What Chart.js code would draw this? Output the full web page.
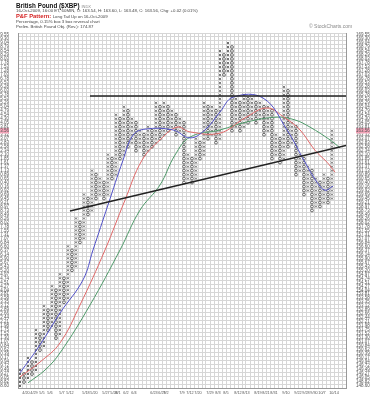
<!DOCTYPE html>
<html>
<head>
<title>British Pound P&amp;F</title>
<script src="https://cdn.jsdelivr.net/npm/chart.js"></script>
<style>
body { margin: 0; background: #fff; font-family: "Liberation Sans", Arial, sans-serif; }
#wrap { position: relative; width: 373px; height: 401px; }
#myChart { position: absolute; left: 0; top: 0; }
.t { position: absolute; white-space: nowrap; color: #444; font-size: 4.3px; line-height: 5px; }
</style>
</head>
<body>
<div id="wrap">
<canvas id="myChart" width="373" height="401"></canvas>
<div class="t" style="left:16px;top:2px;font-size:6.3px;line-height:7px;font-weight:bold;color:#111">British Pound ($XBP) <span style="font-weight:normal;color:#888;font-size:4px">INDX</span></div>
<div class="t" style="left:16px;top:8px">16-Oct-2009, 16:00 ET, 60MIN, O: 163.54, H: 163.60, L: 163.48, C: 163.56, Chg: +0.02 (0.01%)</div>
<div class="t" style="left:16px;top:13px;font-size:5.8px;line-height:6px"><b style="color:#d42020">P&amp;F Pattern:</b> <span style="font-size:4.3px">Long Tail Up on 16-Oct-2009</span></div>
<div class="t" style="left:16px;top:19px">Percentage, 0.15% box 3 box reversal chart</div>
<div class="t" style="left:16px;top:24px">Prelim. British Pound Obj. (Rev.): 174.87</div>
<div class="t" style="left:309px;top:24px;font-size:5px;color:#888">&copy; StockCharts.com</div>
</div>
<script>
// P&F columns (box rows, 0 = bottom of chart)
var colType = ['X','O','X','O','X','O','X','O','X','O','X','O','X','O','X','O','X','O','X','O',
               'X','O','X','O','X','O','X','O','X','O','X','O','X','O','X','O','X','O','X','O',
               'X','O','X','O','X','O','X','O','X','O','X','O','X','O','X','O','X','O','X','O',
               'X','O','X','O','X','O','X','O','X','O','X','O','X','O','X','O','X','O','X'];
var colLow  = [0,1,2,3,4,9,10,14,15,12,13,21,22,29,30,36,37,43,44,47,
               48,47,48,52,53,57,58,60,61,59,60,58,59,60,61,62,63,64,65,63,
               64,51,52,51,52,57,58,62,63,61,62,78,79,64,65,64,65,66,67,66,
               67,63,64,57,58,56,57,60,61,53,54,48,49,44,45,45,46,46,47];
var colHigh = [4,3,7,6,14,13,20,19,25,24,28,27,35,34,42,41,48,47,54,53,
               52,51,58,57,68,67,70,69,67,66,64,63,65,64,71,70,71,70,69,68,
               67,66,58,57,62,61,71,70,70,69,84,83,86,85,72,71,73,72,72,71,
               71,70,70,69,63,62,75,74,66,65,58,57,55,54,52,51,53,52,64];

// box scale
var boxBase = 148.60;
var boxPct = 0.15;
var nRows = 89;
var nCols = 82;
var currentRow = 64;

// moving averages: column position, row value
var maShortX = [0.5,5.5,10.5,16.25,18.75,22.5,26.25,28.75,31.75,38.75,43,46.75,50.5,53.75,61.25,67.25,71.75,74.75,76.75,78.75];
var maShortY = [3.8,10.8,18.8,27.1,34.6,45.9,57.1,63.4,64.9,64.7,62.7,64.7,69.2,72.9,72.7,64.7,56.6,51.6,49.6,50.6];
var maMidX = [0.5,5.5,10.5,15.5,21.75,26.75,31,35.5,39.75,43,50.5,56.75,62.25,66.75,70.5,74.25,77.25,79.25];
var maMidY = [2.8,6.5,11.3,20.8,34.6,47.1,57.1,62.2,65.4,64.2,63.9,67.7,70.2,67.7,64.7,59.6,56.6,54.1];
var maLongX = [2.5,6.75,10.5,18,25.5,30.5,35.5,39.25,43,50.5,57.25,64.75,69.25,73,78,80.5];
var maLongY = [1.3,4.5,8.8,20.8,34.6,44.6,50.9,58.4,62.9,64.7,66.7,67.9,67.2,65.4,62.2,60.2];

// trend lines
var resistX = [18, 82];
var resistY = [73.2, 73.2];
var supportX = [13, 82];
var supportY = [44.4, 60.8];

// date labels under the columns
var dateCols = [2,4,6,8,11,13,17,19,22,24,25,27,29,34,36,37,41,43,45,48,50,52,55,57,60,62,64,67,70,72,74,76,79];
var dateText = ['4/20','4/29','5/5','5/6','5/7','5/12','5/18','5/20','5/27','5/28','6/1','6/2','6/4','6/23','6/29','7/2','7/9','7/12',
                '7/20','7/29','8/3','8/5','8/12','8/13','8/19','8/21','8/31','9/10','9/22','9/28','9/30','10/7','10/14'];

var xs = [], os = [];
for (var i = 0; i < colType.length; i++) {
    for (var r = colLow[i]; r <= colHigh[i]; r++) {
        var p = {x: i + 0.5, y: r + 0.5};
        if (colType[i] == 'X') xs.push(p); else os.push(p);
    }
}

function pairs(a, b) {
    return a.map(function(v, k) { return {x: v, y: b[k]}; });
}

function intTicks(from, to) {
    var t = [];
    for (var v = from; v <= to; v++) t.push({value: v});
    return t;
}

function priceLabel(v) {
    return (boxBase * Math.pow(1 + boxPct / 100, v)).toFixed(2);
}

var dateMap = {};
dateCols.forEach(function(c, k) { dateMap[c] = dateText[k]; });

var tickFont = {family: 'Liberation Sans', size: 4.5};
var pink = function(ctx) { return ctx.tick && ctx.tick.value === currentRow ? '#f3a3b8' : 'rgba(0,0,0,0)'; };

var ctx = document.getElementById('myChart').getContext('2d');
var myChart = new Chart(ctx, {
    type: 'scatter',
    data: {
        datasets: [
            {type: 'line', data: pairs(resistX, resistY), borderColor: '#222', borderWidth: 1.5, pointRadius: 0, tension: 0},
            {type: 'line', data: pairs(supportX, supportY), borderColor: '#222', borderWidth: 1.5, pointRadius: 0, tension: 0},
            {type: 'line', data: pairs(maShortX, maShortY), borderColor: '#5050c8', borderWidth: 1, pointRadius: 0, tension: 0.4},
            {type: 'line', data: pairs(maMidX, maMidY), borderColor: '#e06868', borderWidth: 1, pointRadius: 0, tension: 0.4},
            {type: 'line', data: pairs(maLongX, maLongY), borderColor: '#4f9a6a', borderWidth: 1, pointRadius: 0, tension: 0.4},
            {data: xs, pointStyle: 'crossRot', pointRadius: 1.5, borderColor: '#6a6a6a', borderWidth: 1, backgroundColor: '#6a6a6a'},
            {data: os, pointStyle: 'circle', pointRadius: 1.4, borderColor: '#6a6a6a', borderWidth: 1, backgroundColor: 'rgba(0,0,0,0)'}
        ]
    },
    options: {
        responsive: false,
        animation: false,
        layout: {padding: {top: 33}},
        plugins: {legend: {display: false}, tooltip: {enabled: false}},
        scales: {
            x: {
                type: 'linear', min: 0, max: nCols,
                afterBuildTicks: function(s) { s.ticks = intTicks(0, nCols); },
                afterFit: function(s) { s.height = 13; },
                grid: {color: '#d6d6d6', drawTicks: false},
                border: {color: '#999'},
                ticks: {
                    autoSkip: false, maxRotation: 0, padding: 3, color: '#555',
                    font: {family: 'Liberation Sans', size: 3.8},
                    callback: function(v) { return dateMap[v] || ''; }
                }
            },
            y: {
                type: 'linear', position: 'left', min: 0, max: nRows,
                afterBuildTicks: function(s) { s.ticks = intTicks(0, nRows); },
                afterFit: function(s) { s.width = 0; },
                grid: {color: '#d6d6d6', drawTicks: false},
                border: {color: '#999'},
                ticks: {display: false}
            },
            yl: {
                type: 'linear', position: 'left', min: -0.5, max: nRows - 0.5,
                afterBuildTicks: function(s) { s.ticks = intTicks(0, nRows - 1); },
                afterFit: function(s) { s.width = 18; },
                grid: {display: false},
                border: {display: false},
                ticks: {
                    autoSkip: false, padding: 1, color: '#555', font: tickFont,
                    showLabelBackdrop: true, backdropColor: pink, backdropPadding: 0,
                    callback: priceLabel
                }
            },
            yr: {
                type: 'linear', position: 'right', min: -0.5, max: nRows - 0.5,
                afterBuildTicks: function(s) { s.ticks = intTicks(0, nRows - 1); },
                afterFit: function(s) { s.width = 27; },
                grid: {display: false},
                border: {color: '#999'},
                ticks: {
                    autoSkip: false, padding: 2, color: '#555', font: tickFont,
                    showLabelBackdrop: true, backdropColor: pink, backdropPadding: 0,
                    callback: priceLabel
                }
            }
        }
    }
});
</script>
</body>
</html>
